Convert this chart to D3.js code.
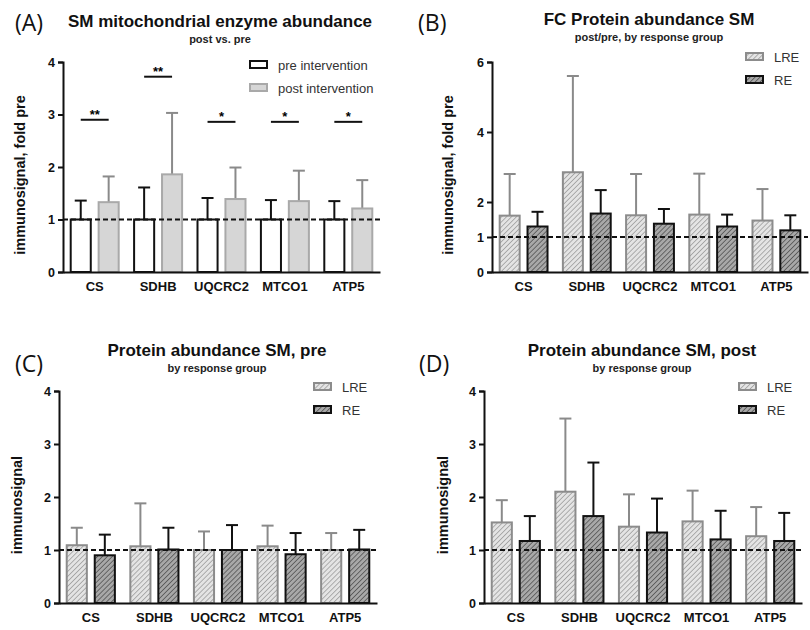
<!DOCTYPE html>
<html>
<head>
<meta charset="utf-8">
<script src="https://cdn.jsdelivr.net/npm/d3@7/dist/d3.min.js"></script>
<style>
  body { margin: 0; background: #fff; }
  svg text { font-family: "Liberation Sans", Arial, sans-serif; }
</style>
</head>
<body>
<div id="chart"></div>
<script>
// values: bar means and top of error bar (mean + SD)
const genes = ["CS", "SDHB", "UQCRC2", "MTCO1", "ATP5"];

// (A) pre vs post, fold of pre
const aPre = [1, 1, 1, 1, 1];
const aPreErr = [1.36, 1.61, 1.41, 1.37, 1.35];
const aPost = [1.33, 1.86, 1.39, 1.35, 1.21];
const aPostErr = [1.82, 3.03, 1.99, 1.93, 1.75];
const aSigStars = ["**", "**", "*", "*", "*"];
const aSigLevel = [2.9, 3.72, 2.86, 2.86, 2.86];

// (B) fold change post/pre by response group
const bLRE = [1.61, 2.85, 1.62, 1.64, 1.47];
const bLREErr = [2.8, 5.6, 2.8, 2.81, 2.37];
const bRE = [1.30, 1.67, 1.38, 1.30, 1.19];
const bREErr = [1.72, 2.34, 1.8, 1.64, 1.62];

// (C) pre, by response group
const cLRE = [1.09, 1.07, 1.0, 1.07, 1.0];
const cLREErr = [1.42, 1.88, 1.35, 1.46, 1.32];
const cRE = [0.90, 1.01, 1.0, 0.92, 1.01];
const cREErr = [1.29, 1.42, 1.47, 1.32, 1.38];

// (D) post, by response group
const dLRE = [1.52, 2.10, 1.44, 1.54, 1.26];
const dLREErr = [1.94, 3.48, 2.05, 2.12, 1.81];
const dRE = [1.17, 1.64, 1.33, 1.20, 1.17];
const dREErr = [1.64, 2.65, 1.97, 1.74, 1.70];

const ticks4 = [0, 1, 2, 3, 4];
const ticks6 = [0, 1, 2, 4, 6];

const svg = d3.select("#chart").append("svg")
    .attr("width", 810)
    .attr("height", 630);

// hatch patterns for the response groups
const defs = svg.append("defs");
function hatch(id, bg, fg) {
    const p = defs.append("pattern")
        .attr("id", id)
        .attr("patternUnits", "userSpaceOnUse")
        .attr("width", 3.5).attr("height", 3.5)
        .attr("patternTransform", "rotate(45)");
    p.append("rect").attr("width", 3.5).attr("height", 3.5).attr("fill", bg);
    p.append("line").attr("x1", 0).attr("y1", 0).attr("x2", 0).attr("y2", 3.5)
        .attr("stroke", fg).attr("stroke-width", 1.5);
}
hatch("hatchLRE", "#e4e4e4", "#999");
hatch("hatchRE", "#a8a8a8", "#4e4e4e");

const styles = {
    pre: { fill: "#fff", stroke: "#111", err: "#111" },
    post: { fill: "#d6d6d6", stroke: "#a9a9a9", err: "#8a8a8a" },
    LRE: { fill: "url(#hatchLRE)", stroke: "#8c8c8c", err: "#8a8a8a" },
    RE: { fill: "url(#hatchRE)", stroke: "#111", err: "#111" }
};

function panel(cfg) {
    const g = svg.append("g");
    const x = d3.scaleBand().domain(genes).range([cfg.x0, cfg.x1]);
    const sub = d3.scaleBand().domain([0, 1]).range([0, x.bandwidth()])
        .paddingInner(0.21).paddingOuter(0.24);
    const y = d3.scaleLinear().domain([0, cfg.yMax]).range([cfg.yBottom, cfg.yTop]);

    cfg.series.forEach((s, si) => {
        const st = styles[s.style];
        const bars = g.append("g");
        genes.forEach((gene, i) => {
            const bx = x(gene) + sub(si);
            const cx = bx + sub.bandwidth() / 2;
            // error bar first, bar drawn on top
            bars.append("line")
                .attr("x1", cx).attr("x2", cx)
                .attr("y1", y(s.values[i])).attr("y2", y(s.err[i]))
                .attr("stroke", st.err).attr("stroke-width", 2);
            bars.append("line")
                .attr("x1", cx - 6).attr("x2", cx + 6)
                .attr("y1", y(s.err[i])).attr("y2", y(s.err[i]))
                .attr("stroke", st.err).attr("stroke-width", 2);
            bars.append("rect")
                .attr("x", bx + 1).attr("width", sub.bandwidth() - 2)
                .attr("y", y(s.values[i]))
                .attr("height", y(0) - y(s.values[i]))
                .attr("fill", st.fill)
                .attr("stroke", st.stroke).attr("stroke-width", 2);
        });
    });

    // significance brackets
    if (cfg.sig) {
        genes.forEach((gene, i) => {
            const xa = x(gene) + sub(0) + sub.bandwidth() / 2;
            const xb = x(gene) + sub(1) + sub.bandwidth() / 2;
            g.append("line")
                .attr("x1", xa).attr("x2", xb)
                .attr("y1", y(cfg.sig.level[i])).attr("y2", y(cfg.sig.level[i]))
                .attr("stroke", "#111").attr("stroke-width", 2);
            g.append("text")
                .attr("x", (xa + xb) / 2).attr("y", y(cfg.sig.level[i]) - 1)
                .attr("text-anchor", "middle")
                .attr("font-size", 13).attr("font-weight", "bold")
                .text(cfg.sig.stars[i]);
        });
    }

    // dashed reference line at 1
    g.append("line")
        .attr("x1", cfg.x0).attr("x2", cfg.x1)
        .attr("y1", y(1)).attr("y2", y(1))
        .attr("stroke", "#111").attr("stroke-width", 2)
        .attr("stroke-dasharray", "5,3");

    const yAxis = g.append("g")
        .attr("transform", `translate(${cfg.x0},0)`)
        .call(d3.axisLeft(y).tickValues(cfg.ticks).tickFormat(d3.format("d"))
            .tickSizeOuter(0).tickSize(5).tickPadding(3));
    yAxis.select(".domain").attr("stroke", "#111").attr("stroke-width", 2);
    yAxis.selectAll(".tick line").attr("stroke", "#111").attr("stroke-width", 2);
    yAxis.selectAll(".tick text")
        .attr("font-size", 12.5).attr("font-weight", "bold").attr("fill", "#111");

    const xAxis = g.append("g")
        .attr("transform", `translate(0,${cfg.yBottom})`)
        .call(d3.axisBottom(x).tickSize(0).tickSizeOuter(0).tickPadding(10));
    xAxis.select(".domain").attr("stroke", "#111").attr("stroke-width", 2);
    xAxis.selectAll(".tick text")
        .attr("font-size", 13).attr("font-weight", "bold").attr("fill", "#111");

    g.append("text")
        .attr("transform", `translate(${cfg.yLabelX},${(cfg.yBottom + cfg.yTop) / 2 + 8}) rotate(-90)`)
        .attr("text-anchor", "middle")
        .attr("font-size", 14.5).attr("font-weight", "bold").attr("fill", "#111")
        .text(cfg.yLabel);

    g.append("text")
        .attr("x", cfg.titleX).attr("y", cfg.titleY)
        .attr("text-anchor", "middle")
        .attr("font-size", 17).attr("font-weight", "bold").attr("fill", "#111")
        .text(cfg.title);
    g.append("text")
        .attr("x", cfg.titleX).attr("y", cfg.titleY + 16)
        .attr("text-anchor", "middle")
        .attr("font-size", 11).attr("font-weight", "bold").attr("fill", "#222")
        .text(cfg.subtitle);

    g.append("text")
        .attr("x", cfg.letterX).attr("y", cfg.letterY)
        .style("font-family", "'Open Sans', 'Noto Sans', sans-serif")
        .attr("font-size", 23).attr("fill", "#111")
        .text(cfg.letter);

    // legend
    cfg.series.forEach((s, si) => {
        const st = styles[s.style];
        const ly = cfg.legendY + si * 23;
        g.append("rect")
            .attr("x", cfg.legendX).attr("y", ly - 4)
            .attr("width", 17).attr("height", 7)
            .attr("fill", st.fill).attr("stroke", st.stroke).attr("stroke-width", 2);
        g.append("text")
            .attr("x", cfg.legendX + 28).attr("y", ly + 5)
            .attr("font-size", 13).attr("fill", "#333")
            .text(s.name);
    });
}

panel({
    letter: "(A)", letterX: 15, letterY: 31,
    title: "SM mitochondrial enzyme abundance", subtitle: "post vs. pre",
    titleX: 220, titleY: 27,
    x0: 63, x1: 380, yBottom: 272, yTop: 62, yMax: 4, ticks: ticks4,
    yLabel: "immunosignal, fold pre", yLabelX: 25,
    legendX: 250, legendY: 65,
    series: [
        { name: "pre intervention", style: "pre", values: aPre, err: aPreErr },
        { name: "post intervention", style: "post", values: aPost, err: aPostErr }
    ],
    sig: { level: aSigLevel, stars: aSigStars }
});

panel({
    letter: "(B)", letterX: 418, letterY: 31,
    title: "FC Protein abundance SM", subtitle: "post/pre, by response group",
    titleX: 649, titleY: 25,
    x0: 492, x1: 808, yBottom: 272, yTop: 62, yMax: 6, ticks: ticks6,
    yLabel: "immunosignal, fold pre", yLabelX: 453,
    legendX: 746, legendY: 57,
    series: [
        { name: "LRE", style: "LRE", values: bLRE, err: bLREErr },
        { name: "RE", style: "RE", values: bRE, err: bREErr }
    ]
});

panel({
    letter: "(C)", letterX: 15, letterY: 372,
    title: "Protein abundance SM, pre", subtitle: "by response group",
    titleX: 217, titleY: 356,
    x0: 59, x1: 377, yBottom: 603, yTop: 391, yMax: 4, ticks: ticks4,
    yLabel: "immunosignal", yLabelX: 22,
    legendX: 314, legendY: 387,
    series: [
        { name: "LRE", style: "LRE", values: cLRE, err: cLREErr },
        { name: "RE", style: "RE", values: cRE, err: cREErr }
    ]
});

panel({
    letter: "(D)", letterX: 419, letterY: 372,
    title: "Protein abundance SM, post", subtitle: "by response group",
    titleX: 642, titleY: 356,
    x0: 484, x1: 802, yBottom: 603, yTop: 391, yMax: 4, ticks: ticks4,
    yLabel: "immunosignal", yLabelX: 448,
    legendX: 739, legendY: 387,
    series: [
        { name: "LRE", style: "LRE", values: dLRE, err: dLREErr },
        { name: "RE", style: "RE", values: dRE, err: dREErr }
    ]
});
</script>
</body>
</html>
